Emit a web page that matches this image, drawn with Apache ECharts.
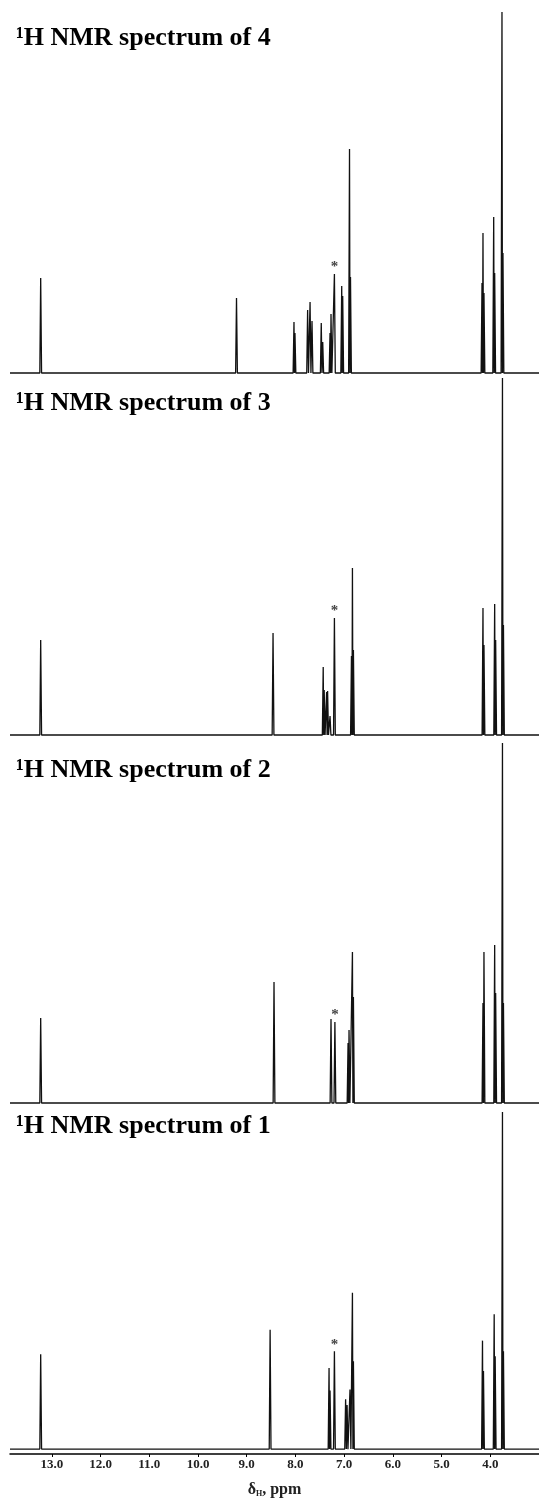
<!DOCTYPE html>
<html>
<head>
<meta charset="utf-8">
<script src="https://cdn.jsdelivr.net/npm/echarts@6/dist/echarts.min.js"></script>
<style>
  html, body { margin: 0; padding: 0; background: #fff; }
  #nmr { width: 539px; height: 1499px; }
</style>
</head>
<body>
<div id="nmr"></div>
<script>
// ppm range of the axis (reversed, high field on the right)
const ppmMin = 3.0;
const ppmMax = 13.86;
const ppmTicks = [13, 12, 11, 10, 9, 8, 7, 6, 5, 4];

// peak lists: shift (ppm) and height (arbitrary units)
const shifts4 = [13.23, 9.21, 8.03, 8.01, 7.75, 7.70, 7.66, 7.47, 7.44, 7.29, 7.27, 7.20, 7.05, 7.03, 6.89, 6.87, 4.17, 4.15, 4.13, 3.93, 3.91, 3.76, 3.74];
const heights4 = [95, 75, 51, 40, 63, 71, 52, 50, 31, 40, 59, 99, 87, 77, 224, 96, 90, 140, 80, 156, 100, 361, 120];

const shifts3 = [13.23, 8.46, 7.43, 7.41, 7.36, 7.34, 7.29, 7.20, 6.85, 6.83, 6.81, 4.15, 4.13, 3.91, 3.89, 3.75, 3.73];
const heights3 = [95, 102, 68, 45, 43, 44, 19, 117, 79, 167, 85, 127, 90, 131, 95, 357, 110];

const shifts2 = [13.23, 8.44, 7.27, 7.19, 6.92, 6.90, 6.83, 6.81, 4.15, 4.13, 3.91, 3.89, 3.75, 3.73];
const heights2 = [85, 121, 84, 81, 60, 73, 151, 106, 100, 151, 158, 110, 360, 100];

const shifts1 = [13.23, 8.52, 7.31, 7.29, 7.20, 6.97, 6.94, 6.88, 6.83, 6.81, 4.16, 4.14, 3.92, 3.90, 3.75, 3.73];
const heights1 = [97, 122, 83, 60, 100, 51, 45, 61, 160, 90, 111, 80, 138, 95, 345, 100];

// solvent (CHCl3) peak marked with *
const solvent4 = [7.20, 99];
const solvent3 = [7.20, 117];
const solvent2 = [7.19, 81];
const solvent1 = [7.20, 100];

const titles = ['¹H NMR spectrum of 4', '¹H NMR spectrum of 3', '¹H NMR spectrum of 2', '¹H NMR spectrum of 1'];

// turn a peak list into line points (thin sticks on a flat baseline)
function buildLine(shifts, heights) {
  const w = 0.018;
  const peaks = shifts.map((s, i) => [s, heights[i]]).sort((a, b) => b[0] - a[0]);
  const pts = [[ppmMax, 0]];
  let last = ppmMax;
  peaks.forEach((p, i) => {
    const next = peaks[i + 1];
    if (p[0] + w < last) pts.push([p[0] + w, 0]);
    pts.push([p[0], p[1]]);
    if (next && p[0] - next[0] < 2 * w) {
      let mid = (p[0] + next[0]) / 2;
      pts.push([mid, 0]);
      last = mid;
    } else {
      pts.push([p[0] - w, 0]);
      last = p[0] - w;
    }
  });
  pts.push([ppmMin, 0]);
  return pts;
}

const serif = '"Liberation Serif", "DejaVu Serif", serif';
// panels: [top, height, yMin, yMax]
const panels = [
  [8, 365, 0, 365],
  [375, 360, 0, 360],
  [741, 362, 0, 362],
  [1109, 353, -5, 348]
];
const titleTops = [25, 390, 757, 1113];
const spectra = [
  [shifts4, heights4, solvent4],
  [shifts3, heights3, solvent3],
  [shifts2, heights2, solvent2],
  [shifts1, heights1, solvent1]
];

let option = {
  backgroundColor: '#fff',
  animation: false,
  title: titles.map((t, i) => ({
    text: t,
    left: 16,
    top: titleTops[i],
    padding: 0,
    textStyle: { fontFamily: serif, fontWeight: 'bold', fontSize: 26, color: '#000' }
  })),
  grid: panels.map(p => ({ left: 10, right: 0, top: p[0], height: p[1] })),
  xAxis: panels.map((p, i) => {
    let last = i === panels.length - 1;
    return {
      type: 'value',
      gridIndex: i,
      inverse: true,
      min: ppmMin,
      max: ppmMax,
      interval: 1,
      axisLine: { show: last, onZero: false, lineStyle: { color: '#000', width: 1.5 } },
      axisTick: { show: last, length: 3, lineStyle: { color: '#000' } },
      splitLine: { show: false },
      axisLabel: {
        show: last,
        showMinLabel: false,
        showMaxLabel: false,
        margin: 4,
        fontFamily: serif,
        fontWeight: 'bold',
        fontSize: 13,
        color: '#222',
        formatter: v => (ppmTicks.indexOf(Math.round(v)) >= 0 && Math.abs(v - Math.round(v)) < 1e-6) ? v.toFixed(1) : ''
      },
      name: last ? '{d|δ}{h|H}{d|, ppm}' : '',
      nameLocation: 'middle',
      nameGap: 28,
      nameTextStyle: {
        rich: {
          d: { fontFamily: serif, fontWeight: 'bold', fontSize: 16, color: '#222' },
          h: { fontFamily: serif, fontWeight: 'bold', fontSize: 8, color: '#222', padding: [8, 0, 0, 0] }
        }
      }
    };
  }),
  yAxis: panels.map((p, i) => ({
    type: 'value',
    gridIndex: i,
    min: p[2],
    max: p[3],
    show: false
  })),
  series: spectra.map((s, i) => ({
    type: 'line',
    xAxisIndex: i,
    yAxisIndex: i,
    data: buildLine(s[0], s[1]),
    showSymbol: false,
    symbol: 'none',
    sampling: 'none',
    clip: false,
    lineStyle: { color: '#111', width: 1.3 },
    markPoint: {
      symbol: 'circle',
      symbolSize: 0,
      data: [{
        coord: s[2],
        label: {
          show: true,
          position: 'top',
          distance: -1,
          formatter: '*',
          fontFamily: serif,
          fontWeight: 'bold',
          fontSize: 15,
          color: '#444'
        }
      }]
    }
  }))
};

let chart = echarts.init(document.getElementById('nmr'));
chart.setOption(option);
window.addEventListener('resize', function () {
  chart.resize();
});
</script>
</body>
</html>
